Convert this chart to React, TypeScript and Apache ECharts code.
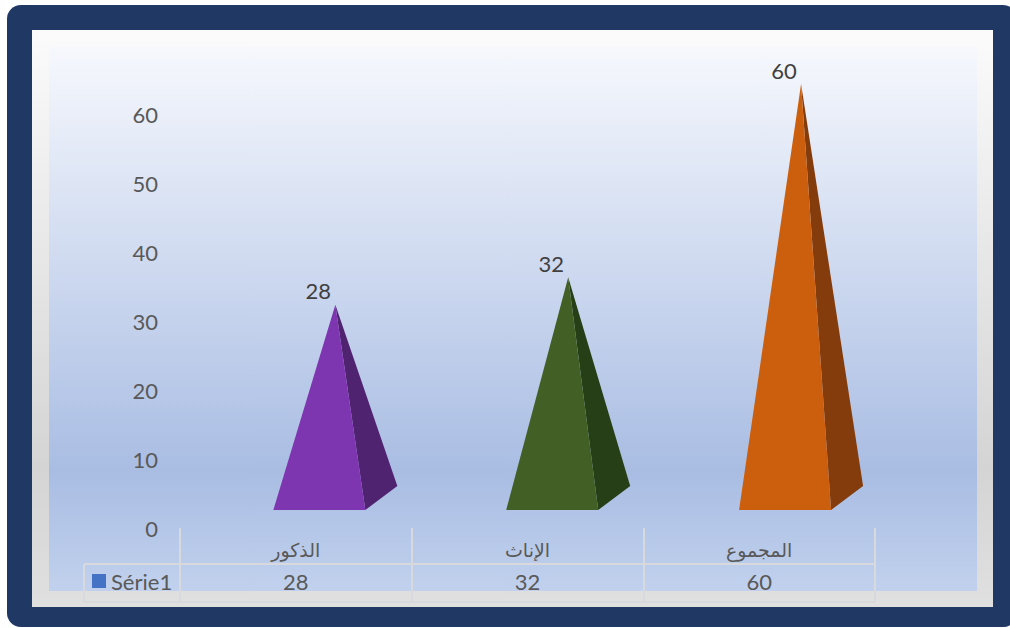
import React, { useEffect, useRef } from "react";
import * as echarts from "echarts";

const categories = ["الذكور", "الإناث", "المجموع"];
const values = [28, 32, 60];
const seriesName = "Série1";
const frontColors = ["#7e35b0", "#426026", "#cc5f0e"];
const sideColors = ["#4f2370", "#263f16", "#843c0c"];

const FONT = "Lato, 'DejaVu Sans', sans-serif";
const LINE = "#d8d9dc";

// Draws one pyramid with its front and right faces, projected from the axis position.
function renderPyramid(params: any, api: any) {
  const idx = api.value(0);
  const value = api.value(1);
  const [cx, top] = api.coord([idx, value]);
  const [, zero] = api.coord([idx, 0]);
  const skew = idx * 1.2;
  const baseY = zero - 18;
  const backY = zero - 42;
  const left = cx - 22.5 + skew;
  const right = cx + 69.5 + skew;
  const back = cx + 101.5 + skew;
  const apexX = cx + 39.5 + skew;
  const apexY = top - 30;
  return {
    type: "group",
    children: [
      {
        type: "polygon",
        shape: { points: [[apexX, apexY], [right, baseY], [back, backY]] },
        style: { fill: sideColors[idx] },
      },
      {
        type: "polygon",
        shape: { points: [[apexX, apexY], [left, baseY], [right, baseY]] },
        style: { fill: frontColors[idx] },
      },
      {
        type: "text",
        x: apexX - 17,
        y: apexY - 14,
        style: {
          text: String(value),
          fill: "#404040",
          font: `22px ${FONT}`,
          textAlign: "center",
          textVerticalAlign: "middle",
        },
      },
    ],
  };
}

function tableLine(x1: number, y1: number, x2: number, y2: number) {
  return {
    type: "line",
    z: 1,
    shape: { x1, y1, x2, y2 },
    style: { stroke: LINE, lineWidth: 2 },
  };
}

export default function App() {
  const ref = useRef<HTMLDivElement>(null);

  useEffect(() => {
    const chart = echarts.init(ref.current!, undefined, { renderer: "svg" });
    chart.setOption({
      animation: false,
      grid: { left: 180, right: 135, top: 114, bottom: 100 },
      legend: {
        data: [{ name: seriesName, icon: "rect", itemStyle: { color: "#4472c4" } }],
        left: 92,
        top: 570,
        padding: 0,
        itemWidth: 14,
        itemHeight: 14,
        itemGap: 5,
        textStyle: { color: "#595959", fontSize: 22, fontFamily: FONT, padding: [0, 0, 0, 0] },
      },
      xAxis: [
        {
          type: "category",
          data: categories,
          axisLine: { show: false },
          axisTick: { show: true, length: 74, lineStyle: { color: LINE, width: 2 } },
          axisLabel: { color: "#595959", fontSize: 19, fontFamily: FONT, margin: 12 },
        },
        {
          type: "category",
          position: "bottom",
          offset: 34,
          data: values.map(String),
          axisLine: { show: false },
          axisTick: { show: false },
          axisLabel: { color: "#595959", fontSize: 22, fontFamily: FONT, margin: 8 },
        },
      ],
      yAxis: {
        type: "value",
        min: 0,
        max: 60,
        interval: 10,
        axisLine: { show: false },
        axisTick: { show: false },
        splitLine: { show: false },
        axisLabel: { color: "#595959", fontSize: 22, fontFamily: FONT, margin: 22 },
      },
      graphic: {
        elements: [
          {
            type: "rect",
            z: -5,
            shape: { x: 7, y: 5, width: 1010, height: 622, r: 14 },
            style: { fill: "#1f3864" },
          },
          {
            type: "rect",
            z: -4,
            shape: { x: 32, y: 30, width: 961, height: 577 },
            style: {
              fill: new echarts.graphic.LinearGradient(0, 0, 0, 1, [
                { offset: 0, color: "#fbfbfb" },
                { offset: 0.76, color: "#d4d4d4" },
                { offset: 1, color: "#e0e0e0" },
              ]),
            },
          },
          {
            type: "rect",
            z: -3,
            shape: { x: 49, y: 47, width: 928, height: 544 },
            style: {
              fill: new echarts.graphic.LinearGradient(0, 0, 0, 1, [
                { offset: 0, color: "#f6f8fd" },
                { offset: 0.78, color: "#a9bde3" },
                { offset: 1, color: "#c1d1ed" },
              ]),
            },
          },
          tableLine(84, 564, 875, 564),
          tableLine(84, 602, 875, 602),
          tableLine(84, 564, 84, 602),
        ],
      },
      series: [
        {
          type: "custom",
          name: seriesName,
          coordinateSystem: "cartesian2d",
          itemStyle: { color: "#4472c4" },
          renderItem: renderPyramid,
          encode: { x: 0, y: 1 },
          data: values.map((v, i) => [i, v]),
        },
      ],
    });
    return () => chart.dispose();
  }, []);

  return (
    <div
      ref={ref}
      style={{ position: "absolute", left: 0, top: 0, width: 1010, height: 628, background: "#ffffff" }}
    />
  );
}
